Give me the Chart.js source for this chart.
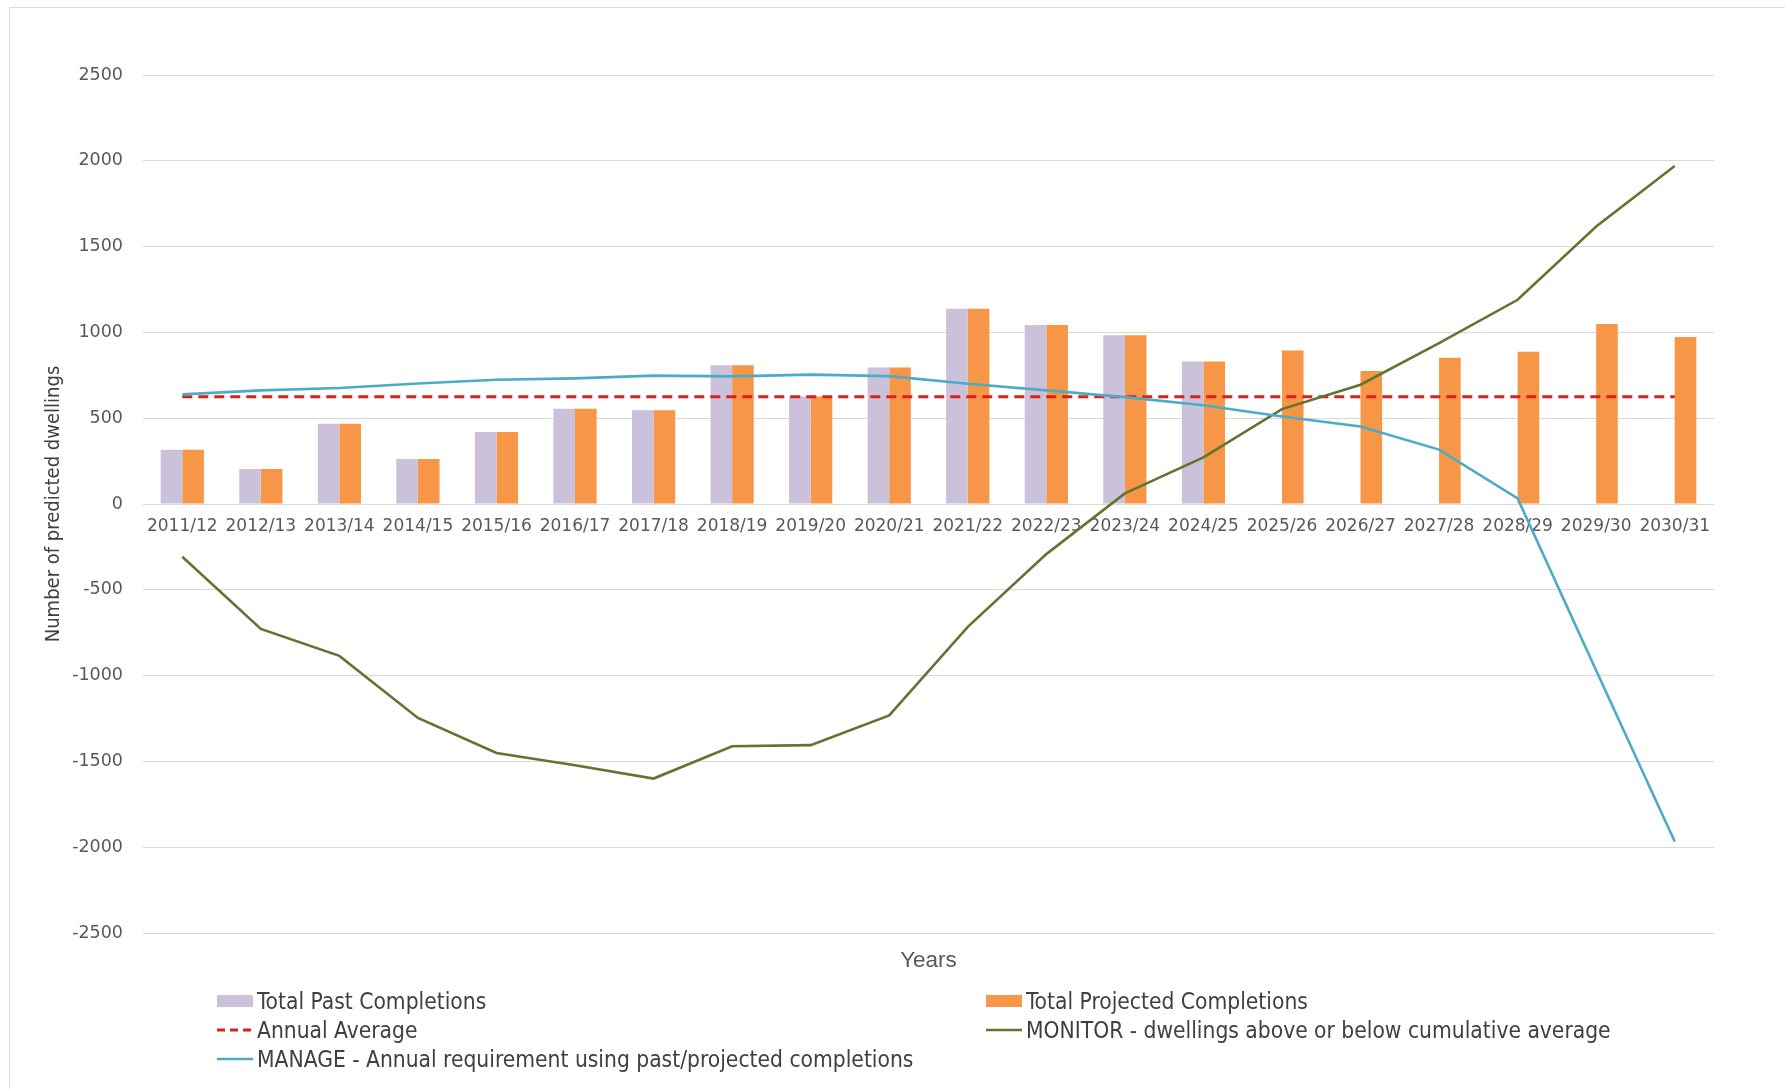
<!DOCTYPE html>
<html>
<head>
<meta charset="utf-8">
<title>Predicted dwellings</title>
<script src="https://cdn.jsdelivr.net/npm/chart.js@4.4.1/dist/chart.umd.min.js"></script>
<style>
  html, body { margin: 0; padding: 0; background: #fff; }
  #wrap  { position: relative; width: 1785px; height: 1089px; overflow: hidden; }
  #frame { position: absolute; left: 9px; top: 7px; width: 1800px; height: 1100px; border: 1px solid #d9d9d9; }
  #chart { position: absolute; left: 0; top: 0; }
  .lg-item {
    position: absolute; white-space: nowrap; color: #404040;
    font-family: 'Liberation Sans Narrow', 'DejaVu Sans Condensed', 'Liberation Sans', sans-serif;
    font-size: 22.6px; line-height: 28px; transform: translateY(-50%);
  }
  .lg-item canvas { vertical-align: middle; margin-right: 4px; position: relative; top: -2px; }
</style>
</head>
<body>
<div id="wrap">
  <div id="frame"></div>
  <canvas id="chart" width="1785" height="1089"></canvas>
</div>

<script>
/* ---------- data ---------- */
const years = ['2011/12','2012/13','2013/14','2014/15','2015/16','2016/17','2017/18','2018/19','2019/20','2020/21',
               '2021/22','2022/23','2023/24','2024/25','2025/26','2026/27','2027/28','2028/29','2029/30','2030/31'];

const pastCompletions      = [316, 204, 468, 262, 419, 555, 546, 808, 627, 796, 1138, 1043, 983, 831,
                              null, null, null, null, null, null];
const projectedCompletions = [316, 204, 468, 262, 419, 555, 546, 808, 627, 796, 1138, 1043, 983, 831,
                              895, 775, 852, 887, 1049, 973];
const annualAverage        = [625, 625, 625, 625, 625, 625, 625, 625, 625, 625,
                              625, 625, 625, 625, 625, 625, 625, 625, 625, 625];
const monitor              = [-307, -728, -885, -1247, -1451, -1522, -1600, -1412, -1405, -1232,
                              -716, -292, 62, 272, 553, 695, 938, 1190, 1617, 1970];
const manage               = [639, 662, 676, 702, 724, 732, 748, 744, 754, 745,
                              701, 662, 623, 575, 510, 452, 317, 33, -970, -1967];

const yMin = -2500, yMax = 2500, yStep = 500;

/* ---------- colours / fonts ---------- */
const C_PAST = '#ccc1da';
const C_PROJ = '#f79646';
const C_AVG  = '#dd1f1a';
const C_MON  = '#5f7530';
const C_MAN  = '#4bacc6';
const C_GRID = '#d9d9d9';
const C_TICK = '#595959';
const NARROW = "'Liberation Sans Narrow', 'DejaVu Sans Condensed', 'Liberation Sans', sans-serif";

const chart = new Chart(document.getElementById('chart'), {
  data: {
    labels: years,
    datasets: [
      { type: 'bar', label: 'Total Past Completions', data: pastCompletions,
        backgroundColor: C_PAST, categoryPercentage: 0.55, barPercentage: 1, order: 5 },
      { type: 'bar', label: 'Total Projected Completions', data: projectedCompletions,
        backgroundColor: C_PROJ, categoryPercentage: 0.55, barPercentage: 1, order: 5 },
      { type: 'line', label: 'Annual Average', data: annualAverage,
        borderColor: C_AVG, borderWidth: 3, borderDash: [10, 6], pointRadius: 0, tension: 0, order: 3 },
      { type: 'line', label: 'MONITOR - dwellings above or below cumulative average', data: monitor,
        borderColor: C_MON, borderWidth: 2.6, pointRadius: 0, tension: 0, order: 2 },
      { type: 'line', label: 'MANAGE - Annual requirement using past/projected completions', data: manage,
        borderColor: C_MAN, borderWidth: 2.6, pointRadius: 0, tension: 0, order: 1 }
    ]
  },
  options: {
    responsive: false,
    animation: false,
    layout: { padding: { top: 75, right: 71, bottom: 0, left: 0 } },
    plugins: { legend: { display: false }, tooltip: { enabled: false } },
    scales: {
      x: {
        position: { y: 0 },
        grid: { display: false, drawTicks: false },
        border: { display: false },
        ticks: { color: C_TICK, font: { family: 'DejaVu Sans', size: 17 }, padding: 12,
                 autoSkip: false, maxRotation: 0 }
      },
      xTitle: {
        type: 'category',
        position: 'bottom',
        grid: { display: false, drawTicks: false },
        border: { display: false },
        ticks: { display: false },
        title: { display: true, text: 'Years', color: C_TICK,
                 font: { family: 'Liberation Sans', size: 22.5 }, padding: { top: 0, bottom: 115 } },
        afterFit: s => { s.height = 156; }
      },
      y: {
        min: yMin, max: yMax,
        grid: { color: C_GRID, lineWidth: 1, drawTicks: false },
        border: { display: false },
        ticks: { stepSize: yStep, color: C_TICK, font: { family: 'DejaVu Sans', size: 17.5 }, padding: 20,
                 callback: v => v },
        title: { display: true, text: 'Number of predicted dwellings', color: '#404040',
                 font: { family: NARROW, size: 20 }, padding: { top: 42, bottom: 0 } },
        afterFit: s => { s.width = 143; }
      }
    }
  }
});

/* ---------- legend (two columns under the plot) ---------- */
const legendSlots = [
  { ds: 0, x: 217, y: 1001, kind: 'box' },
  { ds: 1, x: 986, y: 1001, kind: 'box' },
  { ds: 2, x: 217, y: 1030, kind: 'dash' },
  { ds: 3, x: 986, y: 1030, kind: 'line' },
  { ds: 4, x: 217, y: 1059, kind: 'line' }
];

const wrap = document.getElementById('wrap');
legendSlots.forEach(slot => {
  const ds = chart.data.datasets[slot.ds];
  const item = document.createElement('div');
  item.className = 'lg-item';
  item.style.left = slot.x + 'px';
  item.style.top  = slot.y + 'px';

  const sw = document.createElement('canvas');
  sw.width = 36; sw.height = 14;
  const g = sw.getContext('2d');
  if (slot.kind === 'box') {
    g.fillStyle = ds.backgroundColor;
    g.fillRect(0, 1, 36, 12);
  } else {
    g.strokeStyle = ds.borderColor;
    g.lineWidth = ds.borderWidth;
    if (slot.kind === 'dash') g.setLineDash([8, 5]);
    g.beginPath(); g.moveTo(0, 7); g.lineTo(36, 7); g.stroke();
  }
  item.appendChild(sw);
  item.appendChild(document.createTextNode(ds.label));
  wrap.appendChild(item);
});
</script>
</body>
</html>
